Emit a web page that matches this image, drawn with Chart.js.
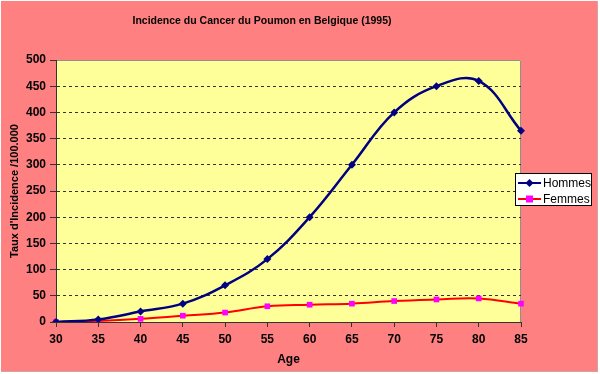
<!DOCTYPE html>
<html>
<head>
<meta charset="utf-8">
<script src="https://cdn.jsdelivr.net/npm/chart.js@4"></script>
<style>
  html, body { margin: 0; padding: 0; background: #ffffff; }
  #wrap { position: absolute; left: 1px; top: 1px; width: 596px; height: 370px;
          background: #FF8080; border-right: 1px solid #d8a0a0; border-bottom: 1px solid #d8a0a0; }
  canvas { display: block; }
</style>
</head>
<body>
<div id="wrap"><canvas id="c" width="596" height="370"></canvas></div>
<script>
const titleText = "Incidence du Cancer du Poumon en Belgique (1995)";
const yTitle = "Taux d'Incidence /100.000";
const xTitle = "Age";
const ages = ["30","35","40","45","50","55","60","65","70","75","80","85"];
const hommes = [0, 5, 20, 35, 70, 120, 200, 300, 400, 450, 460, 365];
const femmes = [0, 2, 6, 12, 18, 30, 33, 35, 40, 43, 45, 35];
const seriesNames = ["Hommes", "Femmes"];
const yMin = 0, yMax = 500, yStep = 50;

const FONT = "'Liberation Sans', Arial, sans-serif";

const bgPlugin = {
  id: 'plotBg',
  beforeDraw(chart) {
    const {ctx, chartArea: a} = chart;
    ctx.save();
    ctx.fillStyle = '#FFFF99';
    ctx.fillRect(a.left, a.top, a.right - a.left, a.bottom - a.top);
    ctx.strokeStyle = '#909090';
    ctx.lineWidth = 1;
    ctx.beginPath();
    ctx.moveTo(a.left, a.top + 0.5);
    ctx.lineTo(a.right - 0.5, a.top + 0.5);
    ctx.lineTo(a.right - 0.5, a.bottom);
    ctx.stroke();
    ctx.restore();
  }
};

const titlePlugin = {
  id: 'customTitle',
  afterDraw(chart) {
    const ctx = chart.ctx;
    ctx.save();
    ctx.font = "bold 10.5px " + FONT;
    ctx.fillStyle = '#000';
    ctx.textAlign = 'center';
    ctx.textBaseline = 'middle';
    ctx.fillText(titleText, 261, 20);
    ctx.restore();
  }
};

const legendPlugin = {
  id: 'customLegend',
  afterDraw(chart) {
    const ctx = chart.ctx;
    const x0 = 514, y0 = 172, w = 77, h = 33;
    ctx.save();
    ctx.fillStyle = '#ffffff';
    ctx.fillRect(x0, y0, w, h);
    ctx.strokeStyle = '#000';
    ctx.lineWidth = 1;
    ctx.strokeRect(x0 + 0.5, y0 + 0.5, w - 1, h - 1);
    chart.data.datasets.forEach((ds, i) => {
      const y = y0 + 10 + i * 16;
      ctx.strokeStyle = ds.borderColor;
      ctx.lineWidth = 2;
      ctx.beginPath();
      ctx.moveTo(x0 + 3, y);
      ctx.lineTo(x0 + 26, y);
      ctx.stroke();
      ctx.fillStyle = ds.pointBackgroundColor;
      if (ds.pointStyle === 'rectRot') {
        ctx.beginPath();
        ctx.moveTo(x0 + 14.5, y - 4);
        ctx.lineTo(x0 + 18.5, y);
        ctx.lineTo(x0 + 14.5, y + 4);
        ctx.lineTo(x0 + 10.5, y);
        ctx.closePath();
        ctx.fill();
      } else {
        ctx.fillRect(x0 + 11, y - 3.5, 7, 7);
      }
      ctx.fillStyle = '#000';
      ctx.font = "12px " + FONT;
      ctx.textAlign = 'left';
      ctx.textBaseline = 'middle';
      ctx.fillText(ds.label, x0 + 28, y + 0.5);
    });
    ctx.restore();
  }
};

new Chart(document.getElementById('c'), {
  type: 'line',
  data: {
    labels: ages,
    datasets: [
      {
        label: seriesNames[0],
        data: hommes,
        borderColor: '#000080',
        backgroundColor: '#000080',
        borderWidth: 2.5,
        pointStyle: 'rectRot',
        pointRadius: 4,
        pointBackgroundColor: '#000080',
        pointBorderColor: '#000080',
        pointBorderWidth: 0,
        tension: 0.4
      },
      {
        label: seriesNames[1],
        data: femmes,
        borderColor: '#FF0000',
        backgroundColor: '#FF00FF',
        borderWidth: 2,
        pointStyle: 'rect',
        pointRadius: 4,
        pointBackgroundColor: '#FF00FF',
        pointBorderColor: '#FF00FF',
        pointBorderWidth: 0,
        tension: 0.4
      }
    ]
  },
  options: {
    responsive: false,
    animation: false,
    devicePixelRatio: 1,
    layout: { padding: { left: 0, top: 59, right: 76, bottom: 0 } },
    plugins: {
      legend: { display: false },
      title: { display: false },
      tooltip: { enabled: false }
    },
    scales: {
      x: {
        type: 'category',
        offset: false,
        afterFit(s) { s.height = 49; },
        grid: { drawOnChartArea: false, drawTicks: true, tickLength: 5, tickColor: '#333', color: '#333' },
        border: { display: true, color: '#333', width: 1 },
        ticks: { color: '#000', font: { family: FONT, size: 12, weight: 'bold' }, padding: 5, maxRotation: 0, autoSkip: false },
        title: { display: true, text: xTitle, color: '#000', font: { family: FONT, size: 12, weight: 'bold' }, padding: { bottom: 4, top: 0 } }
      },
      y: {
        min: yMin, max: yMax,
        afterFit(s) { s.width = 55; },
        grid: {
          color: (c) => (c.tick && (c.tick.value === yMax || c.tick.value === yMin)) ? 'rgba(0,0,0,0)' : '#333',
          tickBorderDash: [],
          tickColor: '#333',
          tickLength: 6,
          lineWidth: 1
        },
        border: { display: true, color: '#333', width: 1, dash: [3, 3] },
        ticks: { stepSize: yStep, color: '#000', font: { family: FONT, size: 12, weight: 'bold' }, padding: 4 },
        title: { display: true, text: yTitle, color: '#000', font: { family: FONT, size: 11, weight: 'bold' }, padding: { top: 7, bottom: 0 } }
      }
    }
  },
  plugins: [bgPlugin, titlePlugin, legendPlugin]
});
</script>
</body>
</html>
